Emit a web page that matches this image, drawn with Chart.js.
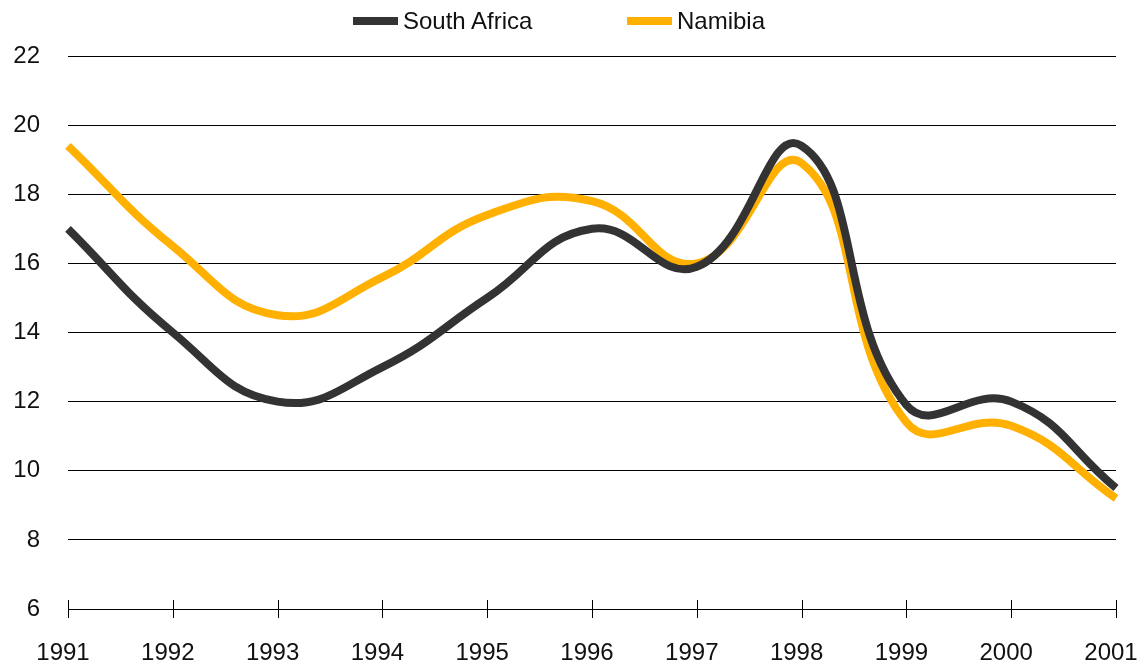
<!DOCTYPE html>
<html>
<head>
<meta charset="utf-8">
<script src="https://cdn.jsdelivr.net/npm/chart.js@4.4.1/dist/chart.umd.min.js"></script>
<style>
    html, body { margin: 0; padding: 0; background: #fff; }
    #wrap { position: relative; width: 1139px; height: 664px; font-family: "Liberation Sans", Arial, sans-serif; }
    #chart { position: absolute; left: 0; top: 0; }
    .swatch { position: absolute; top: 17px; width: 45px; height: 8px; }
    .lbl { position: absolute; top: 7px; font-size: 24px; line-height: 28px; color: #111; }
</style>
</head>
<body>
<div id="wrap">
    <canvas id="chart" width="1139" height="664"></canvas>
    <div id="legend"></div>
</div>
<script>
const years = ['1991', '1992', '1993', '1994', '1995', '1996', '1997', '1998', '1999', '2000', '2001'];
const southAfrica = [17.0, 14.0, 12.0, 13.0, 15.0, 17.0, 15.9, 19.4, 11.9, 12.0, 9.5];
const namibia = [19.4, 16.5, 14.5, 15.6, 17.4, 17.8, 16.0, 18.9, 11.4, 11.3, 9.2];
const seriesNames = ['South Africa', 'Namibia'];
const seriesColors = ['#333333', '#ffb000'];

// legend drawn as html so the spacing matches the original
const legendPos = [{ box: 353, text: 403 }, { box: 627, text: 677 }];
const legendDiv = document.getElementById('legend');
legendDiv.innerHTML = seriesNames.map((name, i) =>
    `<div class="swatch" style="left:${legendPos[i].box}px;background:${seriesColors[i]}"></div>` +
    `<div class="lbl" style="left:${legendPos[i].text}px">${name}</div>`
).join('');

// short tick marks crossing the bottom axis at each year
const crossTicks = {
    id: 'crossTicks',
    afterDraw(chart) {
        const ctx = chart.ctx;
        const x = chart.scales.x;
        const bottom = chart.chartArea.bottom;
        ctx.save();
        ctx.strokeStyle = '#000';
        ctx.lineWidth = 1;
        years.forEach((y, i) => {
            const px = Math.round(x.getPixelForValue(i)) + 0.5;
            ctx.beginPath();
            ctx.moveTo(px, bottom - 9);
            ctx.lineTo(px, bottom + 9);
            ctx.stroke();
        });
        ctx.restore();
    }
};

new Chart(document.getElementById('chart'), {
    type: 'line',
    data: {
        labels: years,
        datasets: [
            {
                label: seriesNames[0],
                data: southAfrica,
                borderColor: seriesColors[0],
                borderWidth: 8,
                pointRadius: 0,
                tension: 0.45,
                fill: false
            },
            {
                label: seriesNames[1],
                data: namibia,
                borderColor: seriesColors[1],
                borderWidth: 8,
                pointRadius: 0,
                tension: 0.45,
                fill: false
            }
        ]
    },
    options: {
        responsive: false,
        animation: false,
        layout: { padding: { top: 56, right: 0, left: 0, bottom: 0 } },
        plugins: {
            legend: { display: false },
            tooltip: { enabled: false }
        },
        scales: {
            x: {
                offset: false,
                grid: { display: false, drawTicks: false },
                border: { display: true, color: '#000', width: 1 },
                ticks: {
                    color: '#111',
                    padding: 30,
                    labelOffset: -5,
                    maxRotation: 0,
                    font: { family: '"Liberation Sans", Arial, sans-serif', size: 24 }
                },
                afterFit(scale) {
                    scale.height = 55;
                    scale.paddingLeft = 0;
                    scale.paddingRight = 23;
                }
            },
            y: {
                min: 6,
                max: 22,
                grid: { color: '#000', lineWidth: 1, drawTicks: false },
                border: { display: false },
                ticks: {
                    stepSize: 2,
                    color: '#111',
                    padding: 28,
                    font: { family: '"Liberation Sans", Arial, sans-serif', size: 24 }
                },
                afterFit(scale) { scale.width = 68; }
            }
        }
    },
    plugins: [crossTicks]
});
</script>
</body>
</html>
